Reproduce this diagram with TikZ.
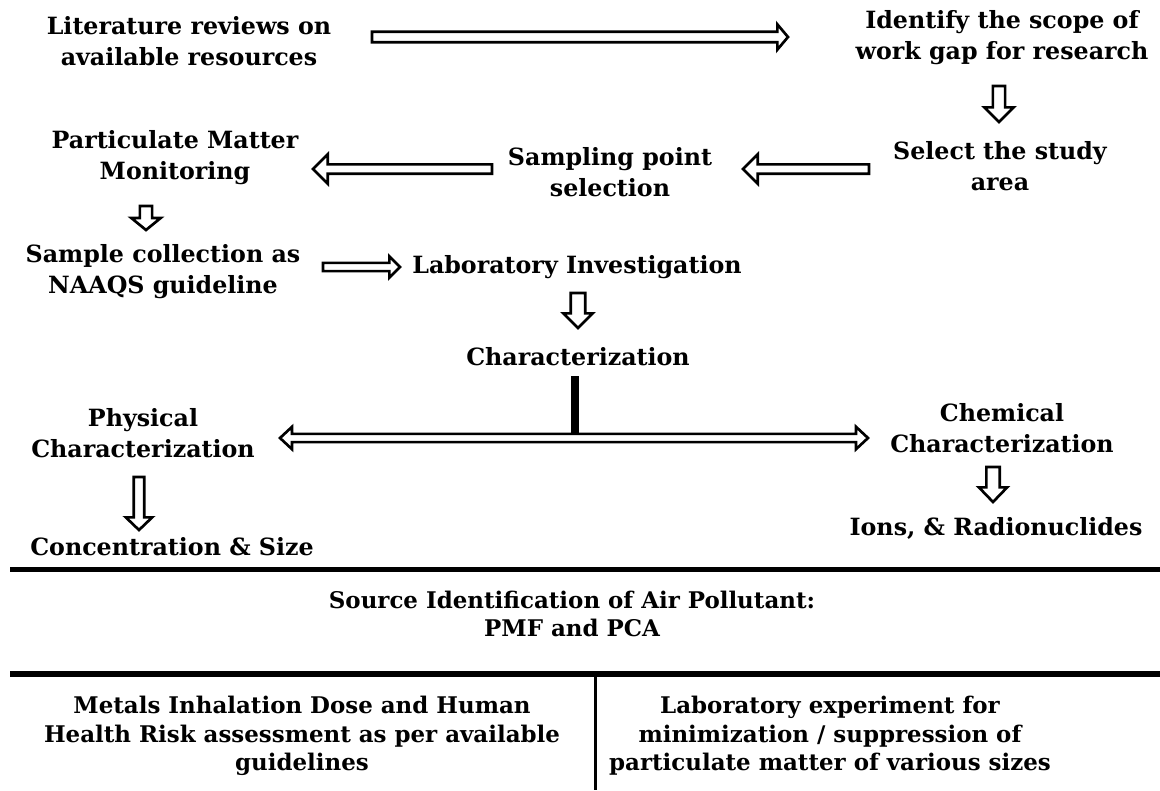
\documentclass[tikz,border=0pt]{standalone}
\usepackage{fontspec}
\setmainfont{DejaVu Serif}
\usepackage{tikz}
\usetikzlibrary{calc}
\tikzset{bashaft/.store in=\bashaft, bahead/.store in=\bahead, balen/.store in=\balen,
  bashaft=3.9pt, bahead=9.5pt, balen=8pt}
\tikzset{
  txt/.style={align=center, inner sep=0pt, font=\fontsize{17.8}{23.25}\selectfont\bfseries},
  lowtxt/.style={txt, font=\fontsize{17.2}{21.4}\selectfont\bfseries},
  blockarrow/.style={draw, line width=2pt, fill=white, line join=miter,
    to path={let \p1=(\tikztostart), \p2=(\tikztotarget), \p3=($(\p2)!\balen!(\p1)$) in
      ($(\p1)!\bashaft!90:(\p2)$) -- ($(\p3)!\bashaft!90:(\p2)$) -- ($(\p3)!\bahead!90:(\p2)$) -- (\p2)
      -- ($(\p3)!\bahead!-90:(\p2)$) -- ($(\p3)!\bashaft!-90:(\p2)$) -- ($(\p1)!\bashaft!-90:(\p2)$) -- cycle}},
  blockboth/.style={draw, line width=2pt, fill=white, line join=miter,
    to path={let \p1=(\tikztostart), \p2=(\tikztotarget), \p3=($(\p2)!\balen!(\p1)$), \p4=($(\p1)!\balen!(\p2)$) in
      (\p1) -- ($(\p4)!\bahead!90:(\p2)$) -- ($(\p4)!\bashaft!90:(\p2)$) -- ($(\p3)!\bashaft!90:(\p2)$)
      -- ($(\p3)!\bahead!90:(\p2)$) -- (\p2) -- ($(\p3)!\bahead!-90:(\p2)$) -- ($(\p3)!\bashaft!-90:(\p2)$)
      -- ($(\p4)!\bashaft!-90:(\p2)$) -- ($(\p4)!\bahead!-90:(\p2)$) -- cycle}},
  rule/.style={line width=4pt}
}

\begin{document}
\begin{tikzpicture}[x=0.75pt,y=-0.75pt]
\useasboundingbox (0,0) rectangle (1160,790);

% steps of the work
\node[txt] (lit) at (189,41) {Literature reviews on\\available resources};
\node[txt] (gap) at (1002,38) {Identify the scope of\\work gap for research};
\node[txt] (area) at (1000,166) {Select the study\\area};
\node[txt] (spoint) at (610,172) {Sampling point\\selection};
\node[txt] (pmm) at (175,158) {Particulate Matter\\Monitoring};
\node[txt] (collect) at (163,272) {Sample collection as\\NAAQS guideline};
\node[txt] (lab) at (577,267) {Laboratory Investigation};
\node[txt] (char) at (578,357) {Characterization};
\node[txt] (phys) at (143,433) {Physical\\Characterization};
\node[txt] (chem) at (1002,428) {Chemical\\Characterization};
\node[txt] (conc) at (172,547) {Concentration \& Size};
\node[txt] (ions) at (996,528) {Ions, \& Radionuclides};

% lower part
\node[lowtxt] (source) at (572,614) {Source Identification of Air Pollutant:\\PMF and PCA};
\node[lowtxt] (risk) at (302,736) {Metals Inhalation Dose and Human\\Health Risk assessment as per available\\guidelines};
\node[lowtxt] (supp) at (830,736) {Laboratory experiment for\\minimization / suppression of\\particulate matter of various sizes};

% arrows
\draw[blockarrow] ($(lit)+(183,-4)$) to ($(gap)+(-214,-1)$);
\draw[blockarrow, bashaft=4.6pt, bahead=11pt, balen=11pt] ($(gap)+(-3,48)$) to ($(area)+(-1,-44)$);
\draw[blockarrow, bashaft=3.5pt, bahead=11pt, balen=11pt] ($(area)+(-131,3)$) to ($(spoint)+(133,-3)$);
\draw[blockarrow, bashaft=3.5pt, bahead=11pt, balen=11pt] ($(spoint)+(-118,-3)$) to ($(pmm)+(138,11)$);
\draw[blockarrow, bashaft=4.6pt, bahead=11pt, balen=9pt] ($(pmm)+(-29,48)$) to ($(collect)+(-17,-42)$);
\draw[blockarrow, bashaft=3.1pt, bahead=8pt] ($(collect)+(160,-5)$) to ($(lab)+(-177,0)$);
\draw[blockarrow, bashaft=5.4pt, bahead=11pt, balen=11pt] ($(lab)+(1,26)$) to ($(char)+(0,-29)$);
\coordinate (split) at (575,433);
\draw[line width=6pt] ($(char)+(-3,19)$) -- (split);
\draw[blockboth, bashaft=3.1pt, bahead=8.4pt, balen=9pt] ($(phys)+(137,5)$) to ($(chem)+(-134,10)$);
\draw[blockarrow, bahead=9.9pt, balen=9.5pt] ($(phys)+(-4,44)$) to ($(conc)+(-33,-17)$);
\draw[blockarrow, bashaft=5pt, bahead=10.6pt, balen=11pt] ($(chem)+(-9,39)$) to ($(ions)+(-3,-26)$);

% separators
\draw[rule, line width=3.75pt] (10,569) -- (1160,569);
\draw[rule, line width=4.5pt] (10,674) -- (1160,674);
\draw[rule, line width=2.25pt] (595,677) -- (595,790);
\end{tikzpicture}
\end{document}
